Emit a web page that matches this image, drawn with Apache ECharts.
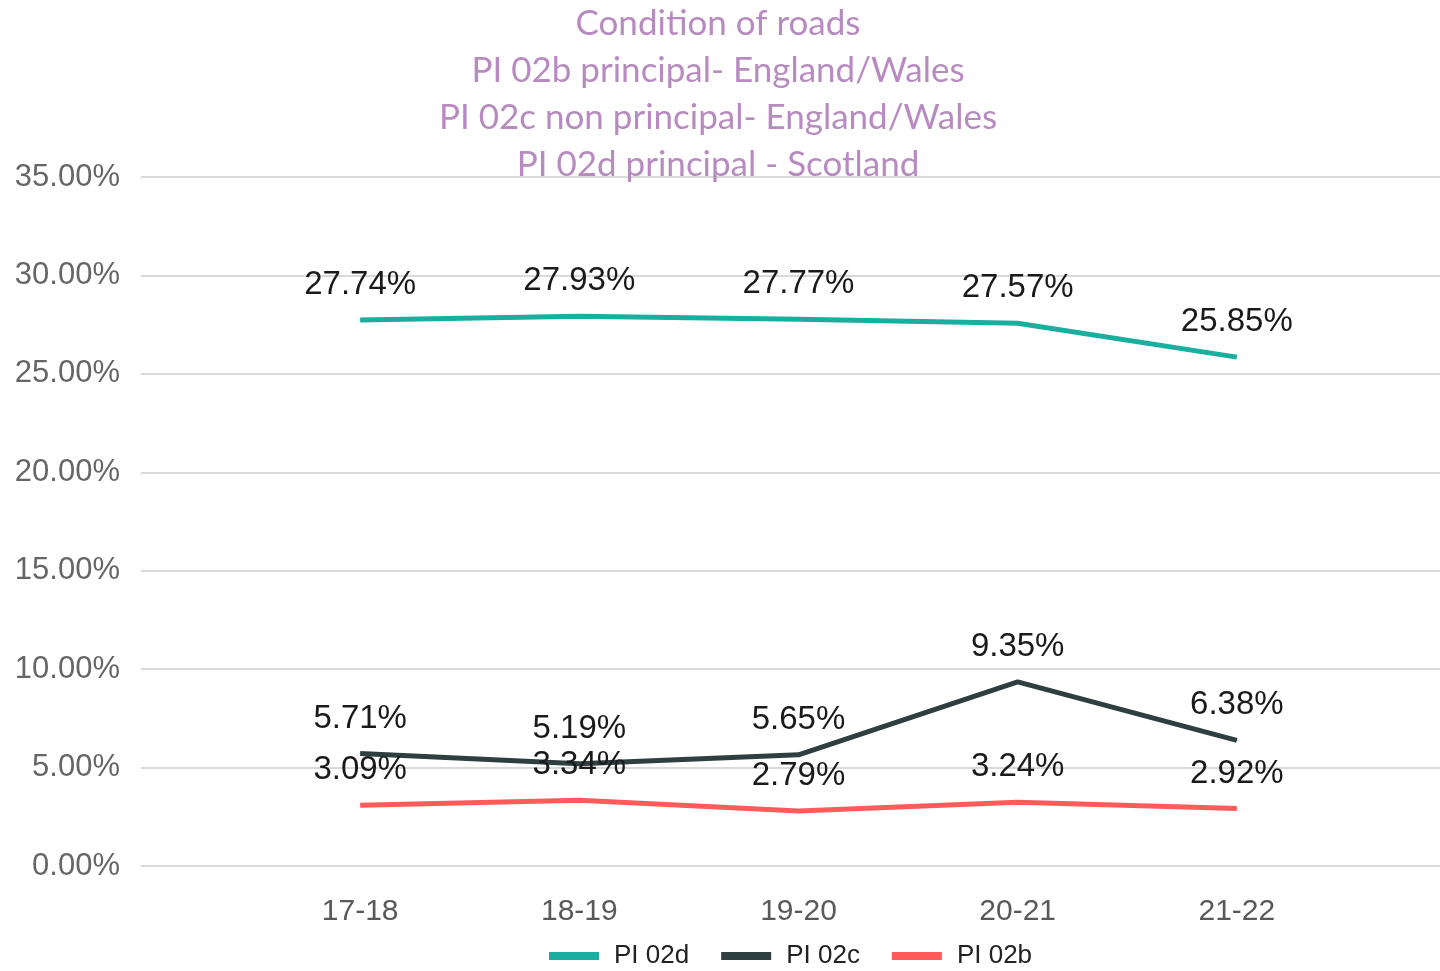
<!DOCTYPE html>
<html>
<head>
<meta charset="utf-8">
<script src="https://cdn.jsdelivr.net/npm/echarts@6/dist/echarts.min.js"></script>
<style>
  html, body { margin: 0; padding: 0; background: #fff; overflow: hidden; }
  #chart { width: 1470px; height: 971px; }
</style>
</head>
<body>
<div id="chart"></div>
<script>
// data
const years = ['17-18', '18-19', '19-20', '20-21', '21-22'];
const pi02d = [27.74, 27.93, 27.77, 27.57, 25.85];
const pi02c = [5.71, 5.19, 5.65, 9.35, 6.38];
const pi02b = [3.09, 3.34, 2.79, 3.24, 2.92];
const titleLines = [
  'Condition of roads',
  'PI 02b principal- England/Wales',
  'PI 02c non principal- England/Wales',
  'PI 02d principal - Scotland'
];

const chart = echarts.init(document.getElementById('chart'));

// one empty slot on each side so the plot runs out to the gridline ends
const padCats = [''].concat(years, ['']);
const pad = arr => [null].concat(arr, [null]);

const labelStyle = {
  show: true,
  position: 'top',
  distance: 18,
  color: '#1a1a1a',
  fontSize: 33,
  fontFamily: 'Liberation Sans, Arial, sans-serif',
  formatter: p => p.value.toFixed(2) + '%'
};

function lineSeries(name, data, color) {
  return {
    name: name,
    type: 'line',
    data: pad(data),
    symbol: 'circle',
    symbolSize: 1,
    itemStyle: { color: color },
    lineStyle: { color: color, width: 5 },
    label: labelStyle,
    connectNulls: false
  };
}

const option = {
  animation: false,
  title: {
    text: titleLines.join('\n'),
    left: 718,
    textAlign: 'center',
    top: 0,
    padding: 0,
    textStyle: {
      color: '#b88bc0',
      fontSize: 35,
      fontWeight: 'normal',
      fontFamily: 'Lato, sans-serif',
      lineHeight: 47
    }
  },
  legend: {
    left: 549,
    top: 943,
    padding: 0,
    itemWidth: 50,
    itemHeight: 8,
    itemGap: 32,
    icon: 'rect',
    data: ['PI 02d', 'PI 02c', 'PI 02b'],
    textStyle: {
      color: '#222',
      fontSize: 26,
      padding: [0, 0, 0, 10],
      fontFamily: 'Liberation Sans, Arial, sans-serif'
    }
  },
  grid: {
    left: 141,
    top: 177,
    width: 1315,
    height: 689,
    containLabel: false
  },
  xAxis: {
    type: 'category',
    data: padCats,
    boundaryGap: false,
    axisLine: { show: false },
    axisTick: { show: false },
    axisLabel: {
      interval: 0,
      margin: 31,
      color: '#595959',
      fontSize: 30,
      fontFamily: 'Liberation Sans, Arial, sans-serif'
    }
  },
  yAxis: {
    type: 'value',
    min: 0,
    max: 35,
    interval: 5,
    axisLine: { show: false },
    axisTick: { show: false },
    splitLine: { lineStyle: { color: '#d9d9d9', width: 2 } },
    axisLabel: {
      margin: 21,
      color: '#666',
      fontSize: 31,
      fontFamily: 'Liberation Sans, Arial, sans-serif',
      formatter: v => v.toFixed(2) + '%'
    }
  },
  series: [
    lineSeries('PI 02d', pi02d, '#1aae9f'),
    lineSeries('PI 02c', pi02c, '#2f3f3f'),
    lineSeries('PI 02b', pi02b, '#ff5b5b')
  ]
};

chart.setOption(option);
window.addEventListener('resize', () => chart.resize());
</script>
</body>
</html>
